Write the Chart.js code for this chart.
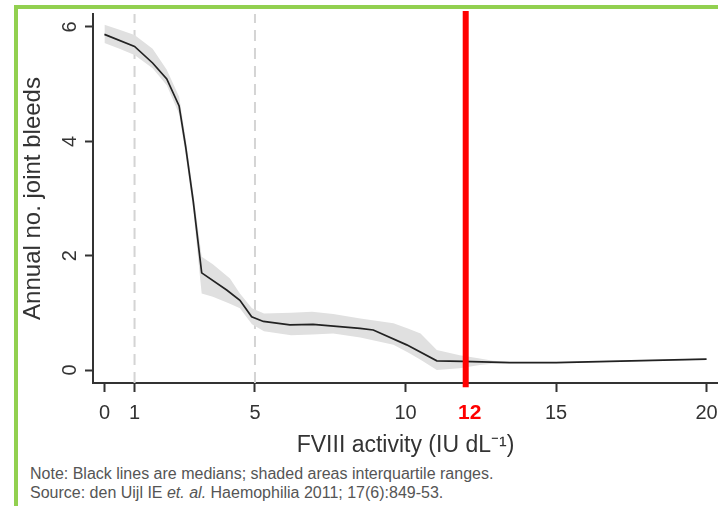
<!DOCTYPE html>
<html>
<head>
<meta charset="utf-8">
<script src="https://cdn.jsdelivr.net/npm/chart.js@4.4.1/dist/chart.umd.min.js"></script>
<style>
	body  {margin: 0; background: #fff; width: 718px; height: 506px; overflow: hidden; position: relative;}
	#frame {position: absolute; left: 14px; top: 5px; right: 0; bottom: 0; border-left: 4px solid #92D050; border-top: 4px solid #92D050;}
	#wrap {position: absolute; left: 0; top: 0; width: 718px; height: 460px;}
	.note {position: absolute; left: 30px; font: 16px "Liberation Sans", Arial, sans-serif; color: #555; white-space: nowrap;}
</style>
</head>
<body>
<div id="frame"></div>
<div id="wrap"><canvas id="chart"></canvas></div>
<div class="note" style="top:465px">Note: Black lines are medians; shaded areas interquartile ranges.</div>
<div class="note" style="top:484px">Source: den Uijl IE <i>et. al.</i> Haemophilia 2011; 17(6):849-53.</div>
<script>
// Median annual joint bleeds by FVIII activity
var medianX = [0, 1, 1.6, 2.07, 2.48, 2.7, 2.95, 3.23, 4.06, 4.5, 4.89, 5.28, 6.16, 6.93, 8.49, 8.93, 10.04, 11.04, 11.9, 13.47, 15, 20];
var medianY = [5.87, 5.66, 5.37, 5.09, 4.62, 3.9, 2.95, 1.70, 1.40, 1.22, 0.93, 0.85, 0.79, 0.80, 0.73, 0.70, 0.44, 0.16, 0.15, 0.13, 0.13, 0.19];

// Interquartile range band
var bandX    = [0, 0.5, 1, 1.6, 2.07, 2.48, 2.7, 2.95, 3.23, 3.6, 4.17, 4.5, 4.9, 5.3, 6.2, 6.9, 7.6, 8.5, 9.6, 10.1, 10.5, 11.04, 11.8, 12.47, 12.9, 13.5, 15, 20];
var bandHigh = [6.04, 5.95, 5.86, 5.62, 5.25, 4.78, 4.05, 3.1, 1.98, 1.85, 1.60, 1.34, 1.08, 0.99, 1.00, 1.02, 0.98, 0.90, 0.82, 0.72, 0.64, 0.35, 0.26, 0.20, 0.16, 0.14, 0.14, 0.20];
var bandLow  = [5.72, 5.62, 5.51, 5.28, 4.98, 4.48, 3.75, 2.80, 1.34, 1.28, 1.16, 1.08, 0.80, 0.68, 0.61, 0.62, 0.64, 0.57, 0.44, 0.30, 0.18, 0.00, 0.03, 0.09, 0.11, 0.12, 0.12, 0.18];

var xTicks    = [0, 1, 5, 10, 12, 15, 20];
var yTicks    = [0, 2, 4, 6];
var dashedAt  = [1, 5];
var markerAt  = 12;

var X_MIN = -0.38, X_MAX = 20.38;
var Y_MIN = -0.227, Y_MAX = 6.227;
var FONT  = '"Liberation Sans", Arial, sans-serif';

function pts(xs, ys) {
	return xs.map(function(x, i) {return {x: x, y: ys[i]};});
}
function isMarker(c) {return c.tick && c.tick.value === markerAt;}

var datasets = [
	{data: [{x: markerAt, y: -0.3}, {x: markerAt, y: 6.28}], borderColor: '#ff0000', borderWidth: 6, order: 0, clip: false},
	{data: pts(medianX, medianY), borderColor: '#222', borderWidth: 1.7, order: 1},
	{data: pts(bandX, bandHigh), borderWidth: 0, backgroundColor: '#e0e0e0', fill: '+1', order: 2},
	{data: pts(bandX, bandLow),  borderWidth: 0, order: 3}
];
dashedAt.forEach(function(v) {
	datasets.push({data: [{x: v, y: Y_MIN}, {x: v, y: Y_MAX}], borderColor: '#d4d4d4', borderWidth: 2, borderDash: [11, 7], order: 4});
});

// y tick labels are drawn rotated, and the red marker label sits a bit right of its tick
var extraLabels = {
	id: 'extraLabels',
	afterDraw: function(chart) {
		var ctx = chart.ctx, x = chart.scales.x, y = chart.scales.y;
		ctx.save();
		ctx.fillStyle    = '#333';
		ctx.font         = '20px ' + FONT;
		ctx.textAlign    = 'center';
		ctx.textBaseline = 'middle';
		yTicks.forEach(function(v) {
			ctx.save();
			ctx.translate(70, y.getPixelForValue(v));
			ctx.rotate(-Math.PI / 2);
			ctx.fillText(String(v), 0, 0);
			ctx.restore();
		});
		ctx.fillStyle = '#ff0000';
		ctx.font      = 'bold 21px ' + FONT;
		ctx.fillText(String(markerAt), x.getPixelForValue(markerAt) + 4, 413);
		ctx.restore();
	}
};

new Chart(document.getElementById('chart').getContext('2d'), {
	type: 'line',
	data: {datasets: datasets},
	plugins: [extraLabels],
	options: {
		responsive:          true,
		maintainAspectRatio: false,
		animation:           false,
		layout:   {padding: {top: 14, left: 0, right: 0, bottom: 0}},
		elements: {point: {radius: 0}, line: {tension: 0}},
		plugins:  {legend: {display: false}, tooltip: {enabled: false}},
		scales: {
			x: {
				type: 'linear', min: X_MIN, max: X_MAX,
				afterBuildTicks: function(s) {s.ticks = xTicks.map(function(v) {return {value: v};});},
				afterFit: function(s) {s.height = 77; s.paddingLeft = 0; s.paddingRight = 0;},
				border: {display: true, color: '#333', width: 2},
				grid:   {drawOnChartArea: false, drawTicks: true, tickLength: 9, tickWidth: 2,
				         tickColor: function(c) {return isMarker(c) ? 'rgba(0,0,0,0)' : '#333';}},
				ticks:  {autoSkip: false, maxRotation: 0, padding: 9, font: {family: FONT, size: 20},
				         color: function(c) {return isMarker(c) ? 'rgba(0,0,0,0)' : '#333';}},
				title:  {display: true, text: 'FVIII activity (IU dL\u207B\u00B9)', color: '#333', font: {family: FONT, size: 23}, padding: {top: 0, bottom: 1}}
			},
			y: {
				type: 'linear', min: Y_MIN, max: Y_MAX,
				afterBuildTicks: function(s) {s.ticks = yTicks.map(function(v) {return {value: v};});},
				afterFit: function(s) {s.width = 93; s.paddingTop = 0; s.paddingBottom = 0;},
				border: {display: true, color: '#333', width: 2},
				grid:   {drawOnChartArea: false, drawTicks: true, tickLength: 8, tickWidth: 2, tickColor: '#333'},
				ticks:  {display: false},
				title:  {display: true, text: 'Annual no. joint bleeds', color: '#333', font: {family: FONT, size: 24}, padding: {top: 19, bottom: 0}}
			}
		}
	}
});
</script>
</body>
</html>
